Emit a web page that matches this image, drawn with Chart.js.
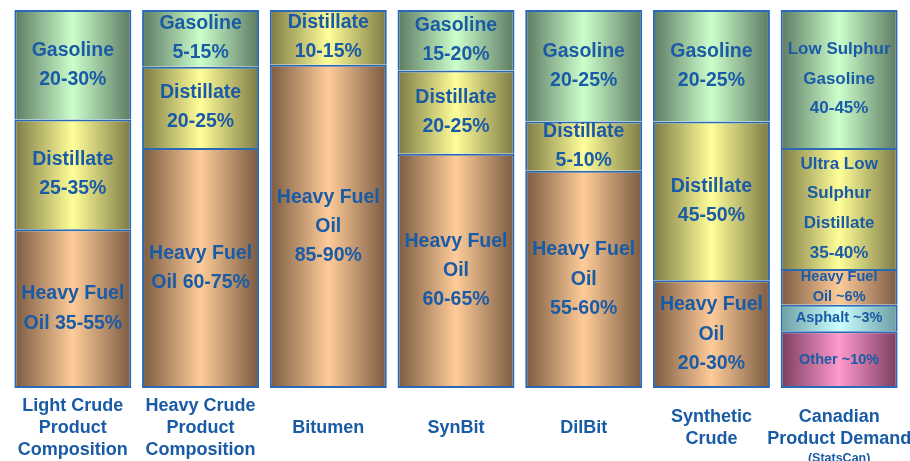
<!DOCTYPE html>
<html>
<head>
<meta charset="utf-8">
<title>Crude product composition</title>
<script src="https://cdn.jsdelivr.net/npm/chart.js@4/dist/chart.umd.min.js"></script>
<style>
  html, body { margin: 0; padding: 0; background: #ffffff; }
  #wrap { position: relative; width: 910px; height: 461px; }
</style>
</head>
<body>
<div id="wrap"><canvas id="productChart"></canvas></div>
<script>
// Categories (x axis labels)
const categories = [
  ['Light Crude', 'Product', 'Composition'],
  ['Heavy Crude', 'Product', 'Composition'],
  ['Bitumen'],
  ['SynBit'],
  ['DilBit'],
  ['Synthetic', 'Crude'],
  ['Canadian', 'Product Demand']
];
const categoryNotes = ['', '', '', '', '', '', '(StatsCan)'];

// Share of each bar (% of height), bottom to top
const other = [null, null, null, null, null, null, 15];
const asphalt = [null, null, null, null, null, null, 7];
const heavyFuelOil = [42, 63.5, 85.5, 62, 57.5, 28.5, 9.5];
const distillate = [29, 21.5, 14.5, 22, 13, 42, 32];
const gasoline = [29, 15, null, 16, 29.5, 29.5, 36.5];

// Text written inside each segment
const otherLabels = [null, null, null, null, null, null, ['Other ~10%']];
const asphaltLabels = [null, null, null, null, null, null, ['Asphalt ~3%']];
const heavyFuelOilLabels = [
  ['Heavy Fuel', 'Oil 35-55%'],
  ['Heavy Fuel', 'Oil 60-75%'],
  ['Heavy Fuel', 'Oil', '85-90%'],
  ['Heavy Fuel', 'Oil', '60-65%'],
  ['Heavy Fuel', 'Oil', '55-60%'],
  ['Heavy Fuel', 'Oil', '20-30%'],
  ['Heavy Fuel', 'Oil ~6%']
];
const distillateLabels = [
  ['Distillate', '25-35%'],
  ['Distillate', '20-25%'],
  ['Distillate', '10-15%'],
  ['Distillate', '20-25%'],
  ['Distillate', '5-10%'],
  ['Distillate', '45-50%'],
  ['Ultra Low', 'Sulphur', 'Distillate', '35-40%']
];
const gasolineLabels = [
  ['Gasoline', '20-30%'],
  ['Gasoline', '5-15%'],
  null,
  ['Gasoline', '15-20%'],
  ['Gasoline', '20-25%'],
  ['Gasoline', '20-25%'],
  ['Low Sulphur', 'Gasoline', '40-45%']
];

const textBlue = '#1a5ba6';
const edgeBlue = '#2a6ab4';
const barShare = 0.916;

Chart.defaults.font.family = '"Liberation Sans", Arial, sans-serif';
Chart.defaults.font.weight = 'bold';

// Horizontal dark-light-dark fill across each bar
function gradientFill(dark, light) {
  return function (context) {
    const chart = context.chart;
    const xScale = chart.scales.x;
    if (!chart.chartArea || !xScale) return light;
    const cx = xScale.getPixelForValue(context.dataIndex);
    const half = xScale.width / categories.length * barShare / 2;
    const g = chart.ctx.createLinearGradient(cx - half, 0, cx + half, 0);
    g.addColorStop(0, dark);
    g.addColorStop(0.5, light);
    g.addColorStop(1, dark);
    return g;
  };
}

// Only the lowest segment of a bar keeps its bottom edge
function skipEdge(context) {
  const datasets = context.chart.data.datasets;
  for (let d = 0; d < context.datasetIndex; d++) {
    if (datasets[d].data[context.dataIndex] != null) return 'start';
  }
  return false;
}

function makeSet(label, values, texts, dark, light) {
  return {
    label: label,
    data: values,
    texts: texts,
    backgroundColor: gradientFill(dark, light),
    borderColor: edgeBlue,
    borderWidth: 2,
    borderSkipped: skipEdge,
    barPercentage: 1,
    categoryPercentage: barShare
  };
}

// Segment texts
const segmentLabels = {
  id: 'segmentLabels',
  afterDatasetsDraw(chart) {
    const ctx = chart.ctx;
    ctx.save();
    ctx.fillStyle = textBlue;
    ctx.textAlign = 'center';
    ctx.textBaseline = 'middle';
    chart.data.datasets.forEach((ds, di) => {
      const meta = chart.getDatasetMeta(di);
      meta.data.forEach((bar, i) => {
        const lines = ds.texts[i];
        if (!lines || ds.data[i] == null) return;
        let size = 19.5, lh = 1.5;
        if (i === categories.length - 1) {
          if (ds.data[i] >= 20) { size = 17; lh = 1.75; } else { size = 14.5; lh = 1.42; }
        }
        ctx.font = 'bold ' + size + 'px "Liberation Sans", Arial, sans-serif';
        const step = size * lh;
        const mid = (bar.y + bar.base) / 2;
        const start = mid - (lines.length - 1) * step / 2;
        lines.forEach((t, k) => ctx.fillText(t, bar.x, start + k * step));
      });
    });
    ctx.restore();
  }
};

// Category labels under the bars
const categoryLabels = {
  id: 'categoryLabels',
  afterDraw(chart) {
    const ctx = chart.ctx;
    const xScale = chart.scales.x;
    const centre = chart.chartArea.bottom + 40;
    const step = 22;
    ctx.save();
    ctx.fillStyle = textBlue;
    ctx.textAlign = 'center';
    ctx.textBaseline = 'middle';
    categories.forEach((lines, i) => {
      const x = xScale.getPixelForValue(i);
      ctx.font = 'bold 18px "Liberation Sans", Arial, sans-serif';
      const start = centre - (lines.length - 1) * step / 2;
      lines.forEach((t, k) => ctx.fillText(t, x, start + k * step));
      if (categoryNotes[i]) {
        ctx.font = 'bold 12.5px "Liberation Sans", Arial, sans-serif';
        ctx.fillText(categoryNotes[i], x, start + lines.length * step - 2);
      }
    });
    ctx.restore();
  }
};

new Chart(document.getElementById('productChart').getContext('2d'), {
  type: 'bar',
  data: {
    labels: categories.map(c => c.join(' ')),
    datasets: [
      makeSet('Other', other, otherLabels, '#7a3d5f', '#ff99cc'),
      makeSet('Asphalt', asphalt, asphaltLabels, '#6a9ea3', '#ccffff'),
      makeSet('Heavy Fuel Oil', heavyFuelOil, heavyFuelOilLabels, '#7a5a41', '#ffcc99'),
      makeSet('Distillate', distillate, distillateLabels, '#7d7a45', '#ffff99'),
      makeSet('Gasoline', gasoline, gasolineLabels, '#5d7a62', '#ccffcc')
    ]
  },
  options: {
    responsive: true,
    maintainAspectRatio: false,
    animation: false,
    layout: { padding: { top: 10, left: 9, right: 7, bottom: 73 } },
    plugins: {
      legend: { display: false },
      tooltip: { enabled: false },
      title: { display: false }
    },
    scales: {
      x: { stacked: true, display: false },
      y: { stacked: true, display: false, min: 0, max: 100 }
    }
  },
  plugins: [segmentLabels, categoryLabels]
});
</script>
</body>
</html>
